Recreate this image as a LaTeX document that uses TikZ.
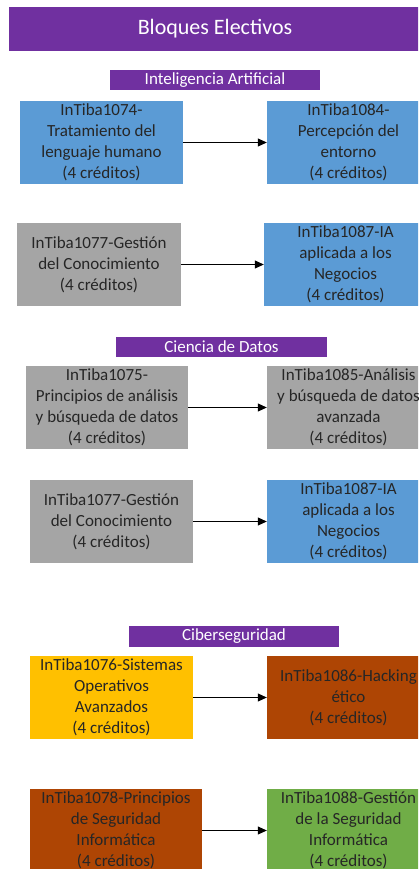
\documentclass[tikz,border=0pt]{standalone}
\usepackage{fontspec}
\setmainfont{Carlito}
\usetikzlibrary{arrows.meta}
\definecolor{morado}{HTML}{7030A0}
\definecolor{azul}{HTML}{5B9BD5}
\definecolor{gris}{HTML}{A5A5A5}
\definecolor{amarillo}{HTML}{FFC000}
\definecolor{cafe}{HTML}{AE4504}
\definecolor{verde}{HTML}{70AD47}
\definecolor{texto}{HTML}{262626}
\begin{document}
\begin{tikzpicture}[x=1pt,y=-1pt,
  curso/.style={inner sep=0pt, minimum width=163pt, minimum height=83pt, align=center, text=texto, font=\fontsize{17}{21}\selectfont},
  bloque/.style={fill=morado, inner sep=0pt, minimum height=20pt, text=white, font=\fontsize{17}{20}\selectfont},
  flecha/.style={-{Triangle[length=9pt,width=8pt]}, line width=0.8pt, draw=black}]
\useasboundingbox (0,0) rectangle (418,869);
\clip (0,0) rectangle (418,869);
\node[fill=morado, minimum width=412pt, minimum height=44pt, inner sep=0pt, text=white, font=\fontsize{22}{24}\selectfont] (titulo) at (215,29) {Bloques Electivos};
% Inteligencia Artificial
\node[bloque, minimum width=210pt] (ia) at (215,80) {Inteligencia Artificial};
\node[curso, fill=azul] (a) at (101.5,142.5) {InTiba1074-\\Tratamiento del\\lenguaje humano\\(4 créditos)};
\node[curso, fill=azul] (b) at (348.5,142.5) {InTiba1084-\\Percepción del\\entorno\\(4 créditos)};
\node[curso, fill=gris, minimum width=164pt] (c) at (99,264.5) {InTiba1077-Gestión\\del Conocimiento\\(4 créditos)};
\node[curso, fill=azul] (d) at (345.5,264.5) {InTiba1087-IA\\aplicada a los\\Negocios\\(4 créditos)};
\draw[flecha] (a) -- (b);
\draw[flecha] (c) -- (d);
% Ciencia de Datos
\node[bloque, minimum width=211pt] (cd) at (221.5,347) {Ciencia de Datos};
\node[curso, fill=gris, minimum width=162pt] (e) at (107,407.5) {InTiba1075-\\Principios de análisis\\y búsqueda de datos\\(4 créditos)};
\node[curso, fill=gris] (f) at (348.5,407.5) {InTiba1085-Análisis\\y búsqueda de datos\\avanzada\\(4 créditos)};
\node[curso, fill=gris] (g) at (111.5,521.5) {InTiba1077-Gestión\\del Conocimiento\\(4 créditos)};
\node[curso, fill=azul] (h) at (348.5,521.5) {InTiba1087-IA\\aplicada a los\\Negocios\\(4 créditos)};
\draw[flecha] (e) -- (f);
\draw[flecha] (g) -- (h);
% Ciberseguridad
\node[bloque, minimum width=210pt, minimum height=21pt] (cs) at (234,636.5) {Ciberseguridad};
\node[curso, fill=amarillo] (i) at (111.5,697.5) {InTiba1076-Sistemas\\Operativos\\Avanzados\\(4 créditos)};
\node[curso, fill=cafe] (j) at (348.5,697.5) {InTiba1086-Hacking\\ético\\(4 créditos)};
\node[curso, fill=cafe, minimum width=172pt] (k) at (116,830.5) {InTiba1078-Principios\\de Seguridad\\Informática\\(4 créditos)};
\node[curso, fill=verde] (l) at (348.5,830.5) {InTiba1088-Gestión\\de la Seguridad\\Informática\\(4 créditos)};
\draw[flecha] (i) -- (j);
\draw[flecha] (k) -- (l);
\end{tikzpicture}
\end{document}
